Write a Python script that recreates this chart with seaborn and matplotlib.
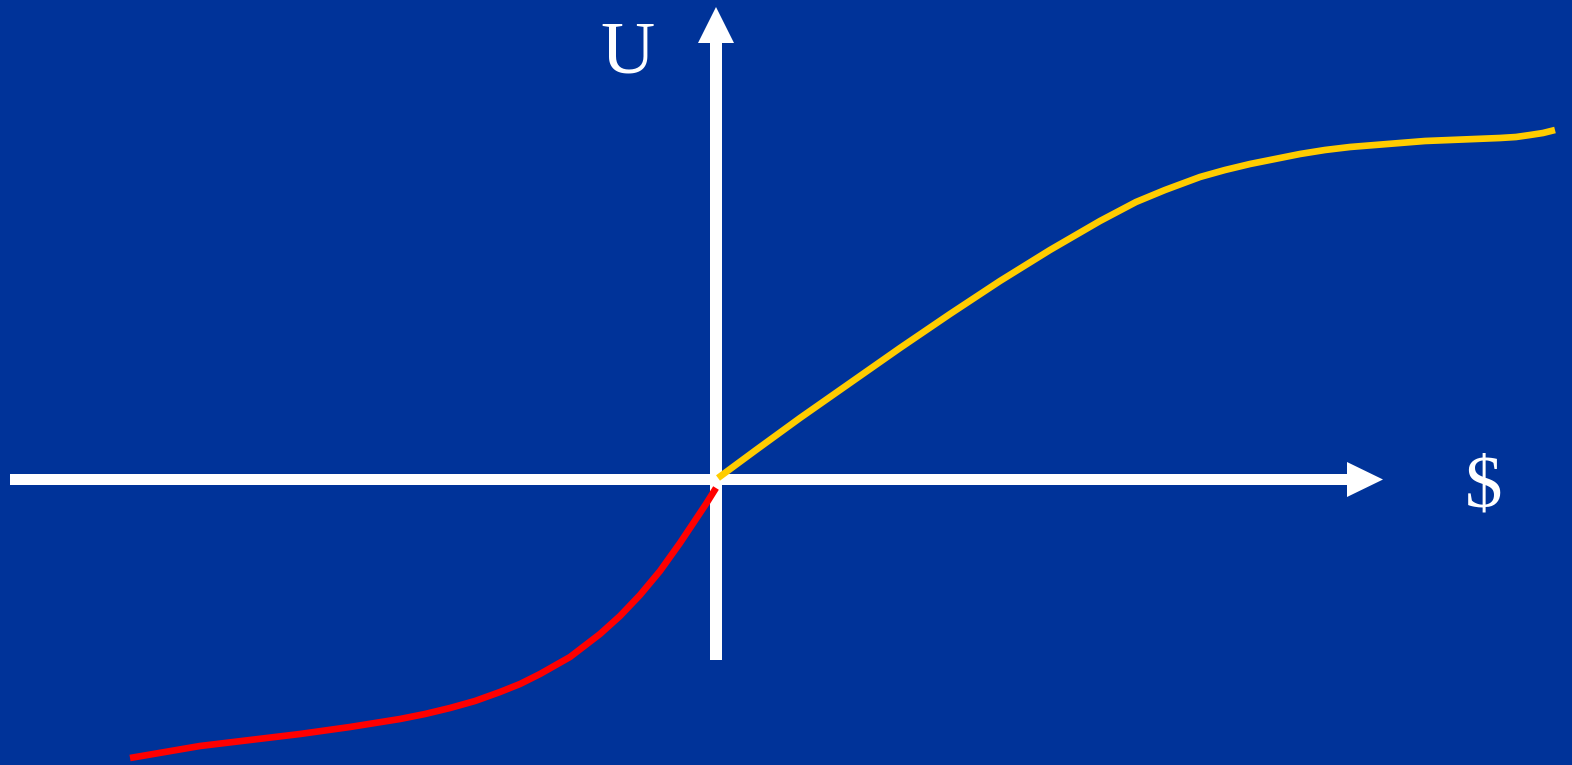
import matplotlib
matplotlib.use("Agg")
import matplotlib.pyplot as plt
import seaborn as sns
import pandas as pd

# Data (origin at axis crossing; units ~ pixels of the original)
gain_x = [2, 40, 84, 134, 184, 234, 284, 334, 384, 420, 449, 484, 509, 534, 559, 584, 609, 634,
          659, 684, 709, 734, 759, 784, 800, 814, 827, 839]
gain_y = [1, 29, 61, 96, 131, 165, 198, 229, 258, 277, 289, 302, 309, 315, 320, 325, 329, 332,
          334, 336, 338, 339, 340, 341, 342, 344, 346, 349]

loss_x = [0, -10, -20, -36, -56, -76, -96, -116, -146, -176, -196, -216, -241, -266, -291, -316,
          -366, -416, -466, -516, -586]
loss_y = [-9, -25, -40, -64, -92, -116, -137, -155, -178, -195, -205, -213, -222, -229, -235, -240,
          -248, -255, -261, -267, -279]

x_label = "$"
y_label = "U"

BG = "#003399"
YELLOW = "#FFCC00"
RED = "#FF0000"

sns.set_style("white")
fig = plt.figure(figsize=(15.72, 7.65), dpi=100, facecolor=BG)
ax = fig.add_axes([0, 0, 1, 1])
ax.set_facecolor(BG)
ax.axis("off")

# axes arrows
ax.arrow(-706, -0.5, 1373, 0, width=11, head_width=35, head_length=36,
         length_includes_head=True, color="white", lw=0, zorder=2)
ax.arrow(0, -181, 0, 653, width=12, head_width=36, head_length=36,
         length_includes_head=True, color="white", lw=0, zorder=2)

gain = pd.DataFrame({"x": gain_x, "y": gain_y})
loss = pd.DataFrame({"x": loss_x, "y": loss_y})
sns.lineplot(data=gain, x="x", y="y", sort=False, color=YELLOW, linewidth=4.8,
             ax=ax, zorder=3, solid_capstyle="butt", solid_joinstyle="round")
sns.lineplot(data=loss, x="x", y="y", sort=False, color=RED, linewidth=4.8,
             ax=ax, zorder=3, solid_capstyle="butt", solid_joinstyle="round")

ax.text(-88, 424, y_label, color="white", fontsize=54, family="Liberation Serif",
        ha="center", va="center")
ax.text(768, -10, x_label, color="white", fontsize=54, family="Liberation Serif",
        ha="center", va="center")

ax.set_xlim(-716, 856)
ax.set_ylim(-286, 479)
ax.set_xlabel("")
ax.set_ylabel("")
fig.savefig("out.png", dpi=100, facecolor=BG)
